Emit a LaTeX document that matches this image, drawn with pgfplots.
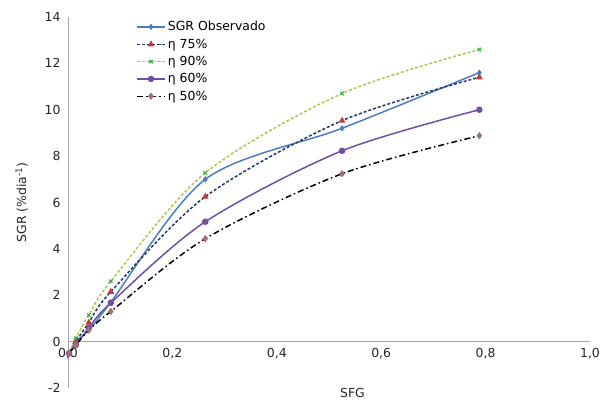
\documentclass[border=0pt]{standalone}
\usepackage{fontspec}
\setmainfont{DejaVu Sans}
\usepackage{pgfplots}
\pgfplotsset{compat=1.18}
\definecolor{cObs}{RGB}{74,126,193}
\definecolor{cNavy}{RGB}{31,56,100}
\definecolor{cRed}{RGB}{192,60,60}
\definecolor{cLime}{RGB}{170,200,80}
\definecolor{cGreen}{RGB}{60,170,70}
\definecolor{cPurp}{RGB}{112,80,160}
\definecolor{cPink}{RGB}{160,110,120}
\begin{document}
\begin{tikzpicture}
\begin{axis}[
 scale only axis, width=522bp, height=371bp,
 xmin=0, xmax=1, ymin=-2, ymax=14,
 axis x line=middle, axis y line=left,
 axis line style={-, draw=gray!70, line width=0.9pt},
 xtick={0,0.2,0.4,0.6,0.8,1.0}, ytick={-2,0,2,4,6,8,10,12,14},
 hide obscured x ticks=false, hide obscured y ticks=false,
 major tick length=0pt,
 tick label style={font=\fontsize{12.5}{14}\selectfont, text=black!85},
 xticklabel style={yshift=-3pt, /pgf/number format/.cd, fixed, fixed zerofill, precision=1, use comma, assume math mode=true},
 yticklabel style={xshift=-4pt, /pgf/number format/assume math mode=true},
 xlabel={SFG},
 xlabel style={at={(axis description cs:0.545,0)}, anchor=north, font=\fontsize{12.5}{14}\selectfont, text=black!85, yshift=3pt},
 ylabel={SGR (\%dia\textsuperscript{-1})},
 ylabel style={font=\fontsize{12.5}{14}\selectfont, text=black!85, yshift=10pt},
 legend style={draw=none, fill=none, at={(axis description cs:0.13,0.994)}, anchor=north west, font=\fontsize{12.5}{14}\selectfont, row sep=2.6pt, inner sep=0pt},
 legend cell align=left,
 legend image code/.code={\draw[mark repeat=2,mark phase=2] plot coordinates {(0cm,0cm) (0.5cm,0cm) (1cm,0cm)};},
 legend image post style={line width=1.5pt},
 every axis plot/.append style={line width=1.5pt, smooth},
]
\coordinate (ll) at (rel axis cs:0,0);
\coordinate (ur) at (rel axis cs:1,1);
\addplot[color=cObs, mark=diamond*, mark size=2pt, mark options={solid, fill=cObs}] coordinates {
 (0.002,-0.5) (0.015,0.0) (0.04,0.5) (0.082,1.7) (0.263,7.0) (0.525,9.2) (0.788,11.6)};
\addlegendentry{SGR Observado}
\addplot[color=cNavy, dash pattern=on 3pt off 2pt, mark=triangle*, mark size=2.5pt, mark options={solid, fill=cRed, draw=cRed}] coordinates {
 (0.002,-0.5) (0.015,0.0) (0.04,0.82) (0.082,2.15) (0.263,6.25) (0.525,9.53) (0.788,11.4)};
\addlegendentry{η 75\%}
\addplot[color=cLime, dash pattern=on 3pt off 2pt, mark=x, mark size=2.5pt, mark options={solid, draw=cGreen, line width=1.1pt}] coordinates {
 (0.002,-0.5) (0.015,0.15) (0.04,1.15) (0.082,2.6) (0.263,7.28) (0.525,10.7) (0.788,12.6)};
\addlegendentry{η 90\%}
\addplot[color=cPurp, mark=*, mark size=2.5pt, mark options={solid, fill=cPurp}] coordinates {
 (0.002,-0.5) (0.015,-0.15) (0.04,0.6) (0.082,1.67) (0.263,5.17) (0.525,8.23) (0.788,10.0)};
\addlegendentry{η 60\%}
\addplot[color=black, dash pattern=on 6pt off 3pt on 1.5pt off 3pt, mark=diamond*, mark size=2.5pt, mark options={solid, fill=cPink, draw=cPink}] coordinates {
 (0.002,-0.5) (0.015,-0.15) (0.04,0.5) (0.082,1.3) (0.263,4.44) (0.525,7.24) (0.788,8.88)};
\addlegendentry{η 50\%}
\end{axis}
\pgfresetboundingbox
\path ([shift={(-68bp,-12bp)}]ll) rectangle ([shift={(12bp,17bp)}]ur);
\end{tikzpicture}
\end{document}
